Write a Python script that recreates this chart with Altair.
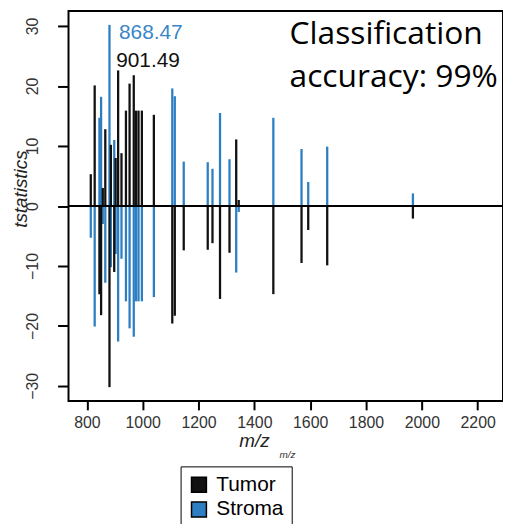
import altair as alt
import pandas as pd

# m/z of each peak and the t statistic of the Tumor class (Stroma is its mirror)
mz = [814, 828, 845, 851, 857, 866, 881, 886, 898, 903, 912, 924, 940, 953, 968,
      976, 985, 997, 1040, 1106, 1115, 1147, 1233, 1250, 1277, 1311, 1335, 1344,
      1468, 1569, 1593, 1661, 1968]
tumor_t = [5.3, 20.1, -14.7, -18.2, 3.0, 12.8, -30.2, 10.2, -11.0, 8.0, 22.6, 8.8,
           15.9, 20.4, 21.8, 15.9, 15.9, 15.9, 15.2, -19.6, -18.3, -7.4, -7.3, -6.2,
           -15.5, -7.8, 11.1, 1.0, -14.7, -9.5, -4.0, -9.9, -2.1]
stroma_t = [-v for v in tumor_t]

groups = ["Tumor", "Stroma"]
group_colors = ["#111111", "#2e7fc2"]
x_ticks = [800, 1000, 1200, 1400, 1600, 1800, 2000, 2200]
y_ticks = [-30, -20, -10, 0, 10, 20, 30]

ann_text = ["868.47", "901.49"]
ann_mz = [915, 905]
ann_t = [27.9, 23.2]
ann_color = ["#3a86c8", "#111111"]

acc_text = ["Classification", "accuracy: 99%"]
acc_mz = [1526, 1526]
acc_t = [27.0, 19.8]

rows = []
for m, s in zip(mz, stroma_t):
    rows.append({"mz": m, "t": s, "zero": 0, "group": "Stroma"})
for m, t in zip(mz, tumor_t):
    rows.append({"mz": m, "t": t, "zero": 0, "group": "Tumor"})
df = pd.DataFrame(rows)

xscale = alt.Scale(domain=[752, 2273], nice=False, zero=False)
yscale = alt.Scale(domain=[-32.5, 32.5], nice=False, zero=False)

pad = "\u00a0" * 16

bars = alt.Chart(df).mark_bar(size=2.3).encode(
    x=alt.X("mz:Q", scale=xscale,
            axis=alt.Axis(values=x_ticks, format="d", title="m/z", grid=False, domain=False,
                          tickSize=9, tickWidth=2, tickColor="black",
                          labelFontSize=16, labelFont="Liberation Sans", labelColor="#333",
                          labelPadding=5, labelFlush=False,
                          titleFont="Liberation Sans", titleFontStyle="italic",
                          titleFontWeight="normal", titleFontSize=19, titleColor="#222",
                          titleX=187, titleY=40, titleBaseline="middle", titleAlign="center")),
    y=alt.Y("t:Q", scale=yscale,
            axis=alt.Axis(values=y_ticks, format="d", title="tstatistics", grid=False, domain=False,
                          tickSize=11, tickWidth=2, tickColor="black",
                          labelFontSize=16, labelFont="Liberation Sans", labelColor="#333",
                          labelAngle=270, labelAlign="center", labelBaseline="bottom",
                          labelPadding=17, labelFlush=False,
                          titleFont="Liberation Sans", titleFontStyle="italic",
                          titleFontWeight="normal", titleFontSize=19, titleColor="#222",
                          titleAngle=270, titleX=-48, titleY=179,
                          titleBaseline="middle", titleAlign="center")),
    y2="zero:Q",
    color=alt.Color("group:N", scale=alt.Scale(domain=groups, range=group_colors),
                    legend=alt.Legend(orient="none", legendX=113, legendY=459,
                                      direction="vertical", title=None,
                                      symbolType="square", symbolSize=225,
                                      symbolStrokeColor="black", symbolStrokeWidth=1.5,
                                      labelFontSize=21, labelFont="Liberation Sans",
                                      labelColor="black", labelOffset=7, labelLimit=400,
                                      labelExpr="datum.label + '" + pad + "'",
                                      strokeColor="black", padding=8, rowPadding=3)),
    order=alt.Order("group:N", sort="ascending"),
)

zero_df = pd.DataFrame({"y": [0]})
zero_line = alt.Chart(zero_df).mark_rule(color="black", strokeWidth=2).encode(y=alt.Y("y:Q", scale=yscale))

ann_df = pd.DataFrame({"text": ann_text, "mz": ann_mz, "t": ann_t, "c": ann_color})
ann = alt.Chart(ann_df).mark_text(align="left", baseline="alphabetic", font="Liberation Sans",
                                  fontSize=21).encode(
    x=alt.X("mz:Q", scale=xscale), y=alt.Y("t:Q", scale=yscale),
    text="text:N", color=alt.Color("c:N", scale=None))

acc_df = pd.DataFrame({"text": acc_text, "mz": acc_mz, "t": acc_t})
acc = alt.Chart(acc_df).mark_text(align="left", baseline="alphabetic", font="Open Sans",
                                  fontSize=32, color="black").encode(
    x=alt.X("mz:Q", scale=xscale), y=alt.Y("t:Q", scale=yscale), text="text:N")

small_df = pd.DataFrame({"text": ["m/z"], "mz": [1519], "t": [-41.6]})
small = alt.Chart(small_df).mark_text(align="center", baseline="middle", font="Liberation Sans",
                                      fontSize=10, fontStyle="italic", color="#333",
                                      clip=False).encode(
    x=alt.X("mz:Q", scale=xscale), y=alt.Y("t:Q", scale=yscale), text="text:N")

chart = alt.layer(bars, zero_line, ann, acc, small).properties(
    width=438, height=393,
    background="white",
    autosize=alt.AutoSizeParams(type="none"),
    padding={"left": 61, "top": 1, "right": 0, "bottom": 122},
).configure_view(stroke="black", strokeWidth=2)

chart.save("out.html", embed_options={"renderer": "svg", "actions": False})
